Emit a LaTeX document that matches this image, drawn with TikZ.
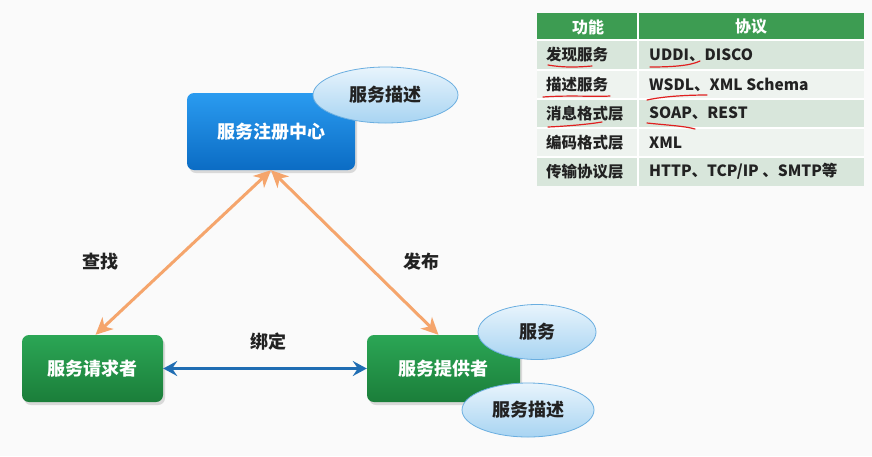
\documentclass[tikz,border=0pt]{standalone}
\usepackage{fontspec}
\setmainfont{Noto Sans CJK SC}
\usetikzlibrary{arrows.meta,shapes.geometric,calc}
\definecolor{bgc}{HTML}{FAFAFA}
\definecolor{bluetop}{HTML}{2A9BF0}
\definecolor{bluebot}{HTML}{0B6CC4}
\definecolor{greentop}{HTML}{2BA655}
\definecolor{greenbot}{HTML}{1B7E3A}
\definecolor{elltop}{HTML}{E8F4FC}
\definecolor{ellbot}{HTML}{A8D4F2}
\definecolor{ellline}{HTML}{6AAEE0}
\definecolor{orangec}{HTML}{F5A56C}
\definecolor{bluearrow}{HTML}{1F6DB3}
\definecolor{hdrc}{HTML}{3D9C52}
\definecolor{rowa}{HTML}{D8E6DB}
\definecolor{rowb}{HTML}{EEF3EF}
\definecolor{txtc}{HTML}{222222}
\definecolor{redline}{HTML}{E02020}
\tikzset{
  box/.style={rectangle, rounded corners=7pt, draw=none, text=white, font=\fontsize{18}{21}\selectfont\bfseries, inner sep=0pt},
  bluebox/.style={box, top color=bluetop, bottom color=bluebot},
  greenbox/.style={box, top color=greentop, bottom color=greenbot},
  bubble/.style={ellipse, draw=ellline, line width=0.8pt, top color=elltop, bottom color=ellbot, text=txtc, font=\fontsize{18}{21}\selectfont\bfseries, inner sep=0pt},
  lbl/.style={text=txtc, font=\fontsize{18}{21}\selectfont\bfseries},
  orarrow/.style={draw=orangec, line width=3pt, {Stealth[length=17pt,width=16pt,inset=5pt]}-{Stealth[length=17pt,width=16pt,inset=5pt]}},
  blarrow/.style={draw=bluearrow, line width=3.2pt, {Stealth[length=14pt,width=15pt,inset=5pt]}-{Stealth[length=14pt,width=15pt,inset=5pt]}},
  cell/.style={text=txtc, font=\fontsize{15.5}{18}\selectfont\bfseries, anchor=west, inner sep=0pt},
  hcell/.style={text=white, font=\fontsize{16}{18}\selectfont\bfseries, inner sep=0pt},
  redmark/.style={draw=redline, line width=1.2pt, line cap=round}
}
\begin{document}
\begin{tikzpicture}[x=1pt,y=-1pt]
\fill[bgc] (0,0) rectangle (872,456);
\useasboundingbox (0,0) rectangle (872,456);

% shadows
\fill[black!15, rounded corners=7pt] (189,96) rectangle (357,173);
\fill[black!15, rounded corners=7pt] (24,338) rectangle (165,405);
\fill[black!15, rounded corners=7pt] (369,338) rectangle (522,405);

% boxes
\node[bluebox, minimum width=168pt, minimum height=77pt] (registry) at (271,131.5) {服务注册中心};
\node[greenbox, minimum width=141pt, minimum height=67pt] (requester) at (92.5,368.5) {服务请求者};
\node[greenbox, minimum width=153pt, minimum height=67pt] (provider) at (443.5,368.5) {服务提供者};

% bubbles
\node[bubble, minimum width=145pt, minimum height=56pt] (regdesc) at (385.5,95) {服务描述};
\node[bubble, minimum width=118pt, minimum height=55pt] (service) at (537,332) {服务};
\node[bubble, minimum width=132pt, minimum height=54pt] (provdesc) at (528,410) {服务描述};

% connectors
\draw[orarrow] ($(requester.north)+(3,0)$) -- (registry.south);
\draw[orarrow] ($(provider.north)+(-5,0)$) -- (registry.south);
\draw[blarrow] (requester.east) -- (provider.west);

% labels
\node[lbl] (find) at (100,262) {查找};
\node[lbl] (publish) at (421,262) {发布};
\node[lbl] (bind) at (268,342) {绑定};

% table
\fill[hdrc] (537,13) rectangle (864,40);
\fill[rowa] (537,40) rectangle (864,70);
\fill[rowb] (537,70) rectangle (864,99);
\fill[rowa] (537,99) rectangle (864,128);
\fill[rowb] (537,128) rectangle (864,157);
\fill[rowa] (537,157) rectangle (864,186);
\foreach \yy in {40,70,99,128,157} \draw[white, line width=1.5pt] (537,\yy) -- (864,\yy);
\draw[white, line width=1.5pt] (638,13) -- (638,186);

\node[hcell] (h1) at (588,27) {功能};
\node[hcell] (h2) at (751,27) {协议};
\node[cell] (a1) at (546,55) {发现服务};
\node[cell] (b1) at (649,55) {UDDI、DISCO};
\node[cell] (a2) at (546,84.5) {描述服务};
\node[cell] (b2) at (649,84.5) {WSDL、XML Schema};
\node[cell] (a3) at (546,113.5) {消息格式层};
\node[cell] (b3) at (649,113.5) {SOAP、REST};
\node[cell] (a4) at (546,142.5) {编码格式层};
\node[cell] (b4) at (649,142.5) {XML};
\node[cell] (a5) at (546,171.5) {传输协议层};
\node[cell] (b5) at (649,171.5) {HTTP、TCP/IP 、SMTP等};

% red hand marks
\draw[redmark] (548,65) .. controls (565,68) and (580,67) .. (592,66);
\draw[redmark] (650,67) .. controls (670,67) and (690,66) .. (700,61);
\draw[redmark] (543,97) .. controls (570,95) and (595,97) .. (610,96);
\draw[redmark] (647,100) .. controls (665,96) and (690,95) .. (707,95);
\draw[redmark] (548,127) .. controls (570,126) and (590,124) .. (602,122);
\draw[redmark] (647,123) .. controls (665,125) and (685,126) .. (695,129);
\end{tikzpicture}
\end{document}
